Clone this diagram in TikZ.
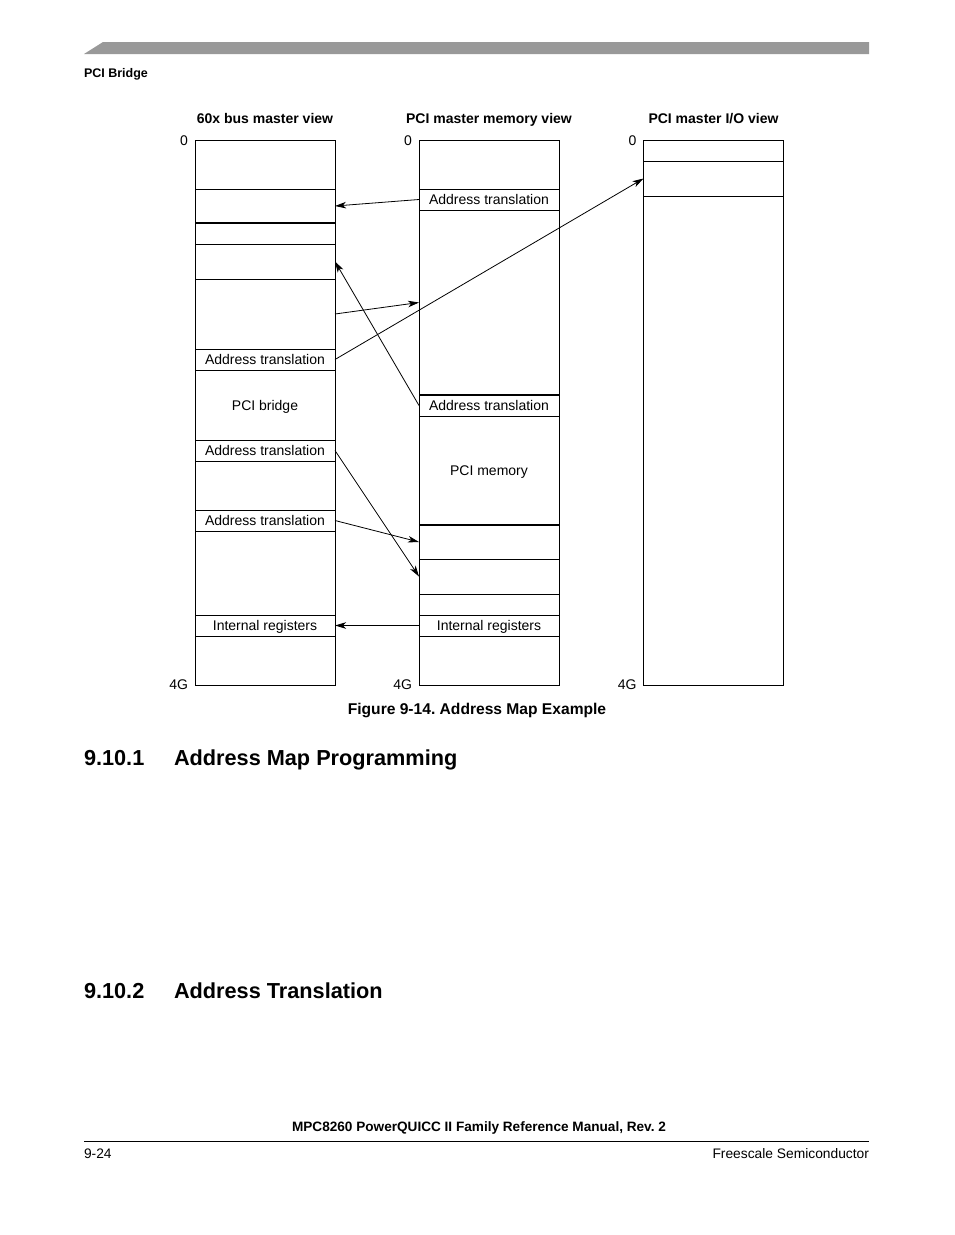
\documentclass[tikz,border=0pt]{standalone}
\usepackage{fontspec}
\setmainfont{Liberation Sans}
\usetikzlibrary{arrows.meta, positioning}
\frenchspacing

\begin{document}
\begin{tikzpicture}[
  x=1pt, y=-1pt,
  every node/.style={inner sep=0pt, outer sep=0pt, font=\fontsize{14}{16}\selectfont},
  region/.style={draw, line width=1pt, minimum width=140pt, text height=10pt, text depth=0pt},
  divider/.style={line width=2pt},
  arrow/.style={-{Stealth[length=11pt, width=6.5pt, inset=3pt]}, line width=0.8pt},
  viewtitle/.style={font=\fontsize{14}{16}\selectfont\bfseries, anchor=base},
  heading/.style={font=\fontsize{21.7}{24}\selectfont\bfseries, anchor=base west}
]
\useasboundingbox (0,0) rectangle (954,1235);

% page header
\fill[black!40] (84,54) -- (103,42) -- (869,42) -- (869,54) -- cycle;
\node[font=\fontsize{12.5}{14}\selectfont\bfseries, anchor=base west] (chap) at (84,77) {PCI Bridge};

% 60x bus master view
\node[viewtitle] (t1) at (265,123) {60x bus master view};
\node[region, minimum height=49pt, anchor=north] (a1) at (265,140) {};
\node[region, minimum height=34pt, below=0pt of a1] (a2) {};
\node[region, minimum height=21pt, below=0pt of a2] (a3) {};
\node[region, minimum height=35pt, below=0pt of a3] (a4) {};
\node[region, minimum height=70pt, below=0pt of a4] (a5) {};
\node[region, minimum height=21pt, below=0pt of a5] (a6) {Address translation};
\node[region, minimum height=70pt, below=0pt of a6] (a7) {PCI bridge};
\node[region, minimum height=21pt, below=0pt of a7] (a8) {Address translation};
\node[region, minimum height=49pt, below=0pt of a8] (a9) {};
\node[region, minimum height=21pt, below=0pt of a9] (a10) {Address translation};
\node[region, minimum height=84pt, below=0pt of a10] (a11) {};
\node[region, minimum height=21pt, below=0pt of a11] (a12) {Internal registers};
\node[region, minimum height=49pt, below=0pt of a12] (a13) {};
\draw[divider] (a3.north west) -- (a3.north east);
\node[anchor=east] (top1) at ([xshift=-7pt,yshift=-1pt]a1.north west) {0};
\node[anchor=east] (end1) at ([xshift=-7pt]a13.south west) {4G};

% PCI master memory view
\node[viewtitle] (t2) at (489,123) {PCI master memory view};
\node[region, minimum height=49pt, anchor=north] (b1) at (489,140) {};
\node[region, minimum height=21pt, below=0pt of b1] (b2) {Address translation};
\node[region, minimum height=185pt, below=0pt of b2] (b3) {};
\node[region, minimum height=21pt, below=0pt of b3] (b4) {Address translation};
\node[region, minimum height=109pt, below=0pt of b4] (b5) {PCI memory};
\node[region, minimum height=34pt, below=0pt of b5] (b6) {};
\node[region, minimum height=35pt, below=0pt of b6] (b7) {};
\node[region, minimum height=21pt, below=0pt of b7] (b8) {};
\node[region, minimum height=21pt, below=0pt of b8] (b9) {Internal registers};
\node[region, minimum height=49pt, below=0pt of b9] (b10) {};
\draw[divider] (b4.north west) -- (b4.north east);
\draw[divider] (b6.north west) -- (b6.north east);
\node[anchor=east] (top2) at ([xshift=-7pt,yshift=-1pt]b1.north west) {0};
\node[anchor=east] (end2) at ([xshift=-7pt]b10.south west) {4G};

% PCI master I/O view
\node[viewtitle] (t3) at (713.5,123) {PCI master I/O view};
\node[region, minimum height=21pt, anchor=north] (c1) at (713.5,140) {};
\node[region, minimum height=35pt, below=0pt of c1] (c2) {};
\node[region, minimum height=489pt, below=0pt of c2] (c3) {};
\node[anchor=east] (top3) at ([xshift=-7pt,yshift=-1pt]c1.north west) {0};
\node[anchor=east] (end3) at ([xshift=-7pt]c3.south west) {4G};

% mappings
\draw[arrow] (b2.west) -- (a2.east);
\draw[arrow] (b4.west) -- (a4.east);
\draw[arrow] (a5.east) -- (b3.west);
\draw[arrow] (a6.east) -- (c2.west);
\draw[arrow] (a8.east) -- (b7.west);
\draw[arrow] (a10.east) -- (b6.west);
\draw[arrow] (b9.west) -- (a12.east);

\node[font=\fontsize{15.6}{18}\selectfont\bfseries, anchor=base] (caption) at (477,714.6) {Figure 9-14. Address Map Example};

% section headings
\node[heading] (num1) at (84,765) {9.10.1};
\node[heading] (sec1) at (174,765) {Address Map Programming};
\node[heading] (num2) at (84,998) {9.10.2};
\node[heading] (sec2) at (174,998) {Address Translation};

% page footer
\node[font=\fontsize{13.6}{16}\selectfont\bfseries, anchor=base] (manual) at (479,1131) {MPC8260 PowerQUICC II Family Reference Manual, Rev. 2};
\draw[line width=1pt] (84,1141) -- (869,1141);
\node[font=\fontsize{13.8}{16}\selectfont, anchor=base west] (page) at (84,1158) {9-24};
\node[font=\fontsize{13.8}{16}\selectfont, anchor=base east] (vendor) at (869,1158) {Freescale Semiconductor};
\end{tikzpicture}
\end{document}
